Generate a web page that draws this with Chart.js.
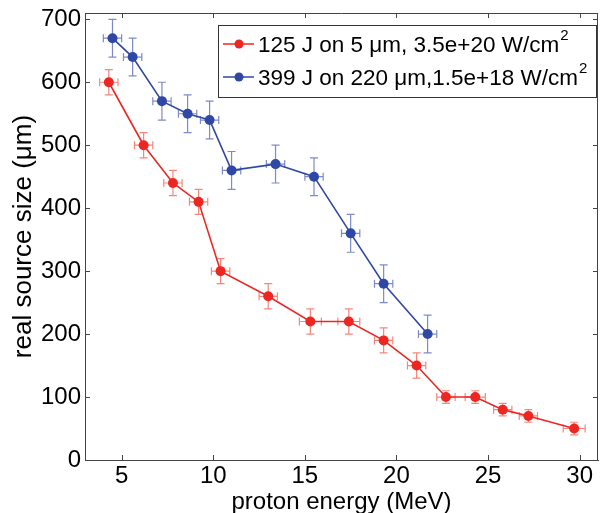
<!DOCTYPE html>
<html>
<head>
<meta charset="utf-8">
<script src="https://cdn.jsdelivr.net/npm/chart.js@4.4.0/dist/chart.umd.min.js"></script>
<style>
  html, body { margin: 0; padding: 0; background: #fff; }
</style>
</head>
<body>
<canvas id="chart" width="603" height="513"></canvas>
<script>
// values
const redEnergy = [4.3, 6.2, 7.8, 9.2, 10.4, 13.0, 15.3, 17.4, 19.3, 21.1, 22.7, 24.3, 25.8, 27.2, 29.7];
const redSize = [600, 500, 440, 410, 300, 260, 220, 220, 190, 150, 100, 100, 80, 70, 50];
const redSizeErr = [20, 20, 20, 20, 20, 20, 20, 20, 20, 20, 10, 10, 10, 10, 10];
const redEnergyErr = [0.5, 0.5, 0.5, 0.5, 0.5, 0.5, 0.6, 0.6, 0.5, 0.5, 0.5, 0.55, 0.5, 0.5, 0.6];

const blueEnergy = [4.5, 5.6, 7.2, 8.6, 9.8, 11.0, 13.4, 15.5, 17.5, 19.3, 21.7];
const blueSize = [670, 640, 570, 550, 540, 460, 470, 450, 360, 280, 200];
const blueSizeErr = [30, 30, 30, 30, 30, 30, 30, 30, 30, 30, 30];
const blueEnergyErr = [0.5, 0.5, 0.5, 0.5, 0.5, 0.5, 0.5, 0.5, 0.5, 0.5, 0.5];

const xTickValues = [5, 10, 15, 20, 25, 30];
const yTickValues = [0, 100, 200, 300, 400, 500, 600, 700];

const redLabel = "125 J on 5 \u03bcm, 3.5e+20 W/cm";
const blueLabel = "399 J on 220 \u03bcm,1.5e+18 W/cm";

const FONT = "'Liberation Sans', Arial, Helvetica, sans-serif";
const RED = "rgb(238,38,34)";
const BLUE = "rgb(48,72,165)";
const RED_ERR = "rgba(240,95,80,0.75)";
const BLUE_ERR = "rgba(80,100,180,0.75)";
const AXIS = "#444";

function toPoints(xs, ys, xe, ye) {
  return xs.map((x, i) => ({ x: x, y: ys[i], xErr: xe[i], yErr: ye[i] }));
}

// error bars, drawn with the chart's scales
const errorBars = {
  id: "errorBars",
  beforeDatasetsDraw(chart) {
    const ctx = chart.ctx;
    const xs = chart.scales.x, ys = chart.scales.y;
    const cap = 4;
    chart.data.datasets.forEach(ds => {
      ctx.save();
      ctx.strokeStyle = ds.errColor;
      ctx.lineWidth = 1.2;
      ds.data.forEach(p => {
        const px = xs.getPixelForValue(p.x);
        const py = ys.getPixelForValue(p.y);
        const y1 = ys.getPixelForValue(p.y - p.yErr);
        const y2 = ys.getPixelForValue(p.y + p.yErr);
        const x1 = xs.getPixelForValue(p.x - p.xErr);
        const x2 = xs.getPixelForValue(p.x + p.xErr);
        ctx.beginPath();
        ctx.moveTo(px, y1); ctx.lineTo(px, y2);
        ctx.moveTo(px - cap, y1); ctx.lineTo(px + cap, y1);
        ctx.moveTo(px - cap, y2); ctx.lineTo(px + cap, y2);
        ctx.moveTo(x1, py); ctx.lineTo(x2, py);
        ctx.moveTo(x1, py - cap); ctx.lineTo(x1, py + cap);
        ctx.moveTo(x2, py - cap); ctx.lineTo(x2, py + cap);
        ctx.stroke();
      });
      ctx.restore();
    });
  }
};

// matlab style box with inward ticks, plus the boxed legend
const frame = {
  id: "frame",
  afterDraw(chart) {
    const ctx = chart.ctx;
    const a = chart.chartArea;
    const xs = chart.scales.x, ys = chart.scales.y;
    const t = 5;
    ctx.save();
    ctx.strokeStyle = AXIS;
    ctx.lineWidth = 1;
    ctx.beginPath();
    ctx.moveTo(a.left, a.top + 0.5); ctx.lineTo(a.right, a.top + 0.5);
    ctx.moveTo(a.right - 0.5, a.top); ctx.lineTo(a.right - 0.5, a.bottom);
    xs.ticks.forEach(tk => {
      const px = Math.round(xs.getPixelForValue(tk.value)) + 0.5;
      ctx.moveTo(px, a.bottom); ctx.lineTo(px, a.bottom - t);
      ctx.moveTo(px, a.top); ctx.lineTo(px, a.top + t);
    });
    ys.ticks.forEach(tk => {
      const py = Math.round(ys.getPixelForValue(tk.value)) + 0.5;
      ctx.moveTo(a.left, py); ctx.lineTo(a.left + t, py);
      ctx.moveTo(a.right, py); ctx.lineTo(a.right - t, py);
    });
    ctx.stroke();

    // legend
    const lx = 218.5, ly = 25.5, lw = 378, lh = 72;
    ctx.fillStyle = "#fff";
    ctx.fillRect(lx, ly, lw, lh);
    ctx.strokeStyle = "#333";
    ctx.strokeRect(lx, ly, lw, lh);
    const rows = [
      { label: redLabel, color: RED, y: 44 },
      { label: blueLabel, color: BLUE, y: 77 }
    ];
    rows.forEach(r => {
      ctx.strokeStyle = r.color;
      ctx.lineWidth = 1.5;
      ctx.beginPath();
      ctx.moveTo(223, r.y); ctx.lineTo(254, r.y);
      ctx.stroke();
      ctx.fillStyle = r.color;
      ctx.beginPath();
      ctx.arc(239, r.y, 4.5, 0, Math.PI * 2);
      ctx.fill();
      ctx.fillStyle = "#000";
      ctx.font = "22.5px " + FONT;
      ctx.textBaseline = "middle";
      ctx.textAlign = "left";
      ctx.fillText(r.label, 258, r.y + 2);
      const w = ctx.measureText(r.label).width;
      ctx.font = "15px " + FONT;
      ctx.fillText("2", 258 + w + 1, r.y - 8);
    });
    ctx.restore();
  }
};

const ctx = document.getElementById("chart").getContext("2d");
new Chart(ctx, {
  type: "line",
  data: {
    datasets: [
      {
        label: redLabel,
        data: toPoints(redEnergy, redSize, redEnergyErr, redSizeErr),
        borderColor: RED,
        backgroundColor: RED,
        errColor: RED_ERR,
        borderWidth: 1.6,
        pointRadius: 5,
        pointBorderWidth: 0,
        tension: 0
      },
      {
        label: blueLabel,
        data: toPoints(blueEnergy, blueSize, blueEnergyErr, blueSizeErr),
        borderColor: BLUE,
        backgroundColor: BLUE,
        errColor: BLUE_ERR,
        borderWidth: 1.6,
        pointRadius: 5,
        pointBorderWidth: 0,
        tension: 0
      }
    ]
  },
  options: {
    responsive: false,
    animation: false,
    layout: { padding: { top: 13, right: 1, left: 0, bottom: 0 } },
    plugins: {
      legend: { display: false },
      tooltip: { enabled: false }
    },
    scales: {
      x: {
        type: "linear",
        min: 3,
        max: 31,
        afterBuildTicks: s => { s.ticks = xTickValues.map(v => ({ value: v })); },
        afterFit: s => { s.height = 53; s.paddingRight = 0; s.paddingLeft = 0; },
        grid: { display: false, drawTicks: false },
        border: { display: true, color: AXIS, width: 1 },
        ticks: { color: "#000", padding: 2, font: { family: FONT, size: 24 } },
        title: {
          display: true,
          text: "proton energy (MeV)",
          color: "#000",
          padding: { top: 0, bottom: -4 },
          font: { family: FONT, size: 24 }
        }
      },
      y: {
        type: "linear",
        min: 0,
        max: 710,
        afterBuildTicks: s => { s.ticks = yTickValues.map(v => ({ value: v })); },
        afterFit: s => { s.width = 85; s.paddingTop = 0; s.paddingBottom = 0; },
        grid: { display: false, drawTicks: false },
        border: { display: true, color: AXIS, width: 1 },
        ticks: { color: "#000", padding: 4, font: { family: FONT, size: 24 } },
        title: {
          display: true,
          text: "real source size (\u03bcm)",
          color: "#000",
          padding: { top: 8, bottom: 0 },
          font: { family: FONT, size: 26 }
        }
      }
    }
  },
  plugins: [errorBars, frame]
});
</script>
</body>
</html>
